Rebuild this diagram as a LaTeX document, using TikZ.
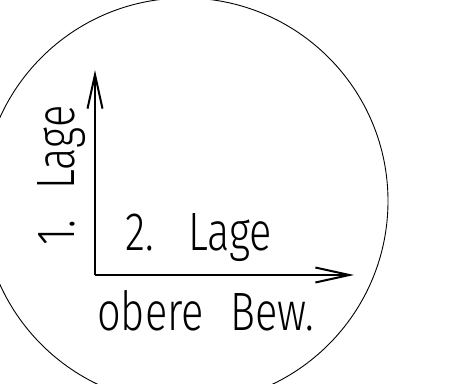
\documentclass[tikz,border=0pt]{standalone}
\usepackage{fontspec}
\newfontfamily\cad[FakeStretch=0.77,WordSpace=2.3]{Fira Sans Light}
\usetikzlibrary{arrows.meta}
\tikzset{
  ring/.style={draw, line width=0.9pt},
  axis/.style={draw, line width=2pt, -{Straight Barb[length=34pt,width=15pt,line width=2pt]}},
  lbl/.style={inner sep=0pt, anchor=base west, font=\cad\fontsize{54}{60}\selectfont}
}
\begin{document}
\begin{tikzpicture}[x=1pt,y=-1pt]
\useasboundingbox (0,0) rectangle (449,383);
\node[circle, ring, minimum size=406pt, inner sep=0pt] (c) at (185,201) {};
\coordinate (o) at (95,275);
\coordinate (t) at (95,70);
\coordinate (r) at (354,275);
\draw[axis] (o) -- (t);
\draw[axis] (o) -- (r);
\node[lbl] (l2) at (125,250) {2.\hspace{4pt} Lage};
\node[lbl] (ob) at (97,330) {obere Bew.};
\node[lbl, rotate=90] (l1) at (74,246) {1. Lage};
\end{tikzpicture}
\end{document}
